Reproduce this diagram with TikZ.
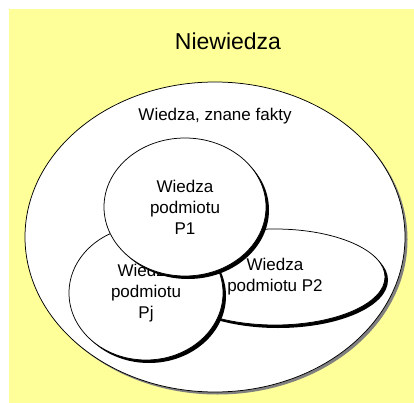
\documentclass[tikz,border=0pt]{standalone}
\usepackage{fontspec}
\setmainfont{Liberation Sans}
\usetikzlibrary{shapes.geometric,shadows}
\definecolor{tlo}{RGB}{255,255,153}
\newcommand{\TLO}[0]{tlo}
\newcommand{\CIEN}[0]{black!50}

\begin{document}
\begin{tikzpicture}[x=1pt, y=-1pt,
  zbior/.style={ellipse, draw, fill=white, line width=0.75pt, inner sep=0pt,
    align=center, font=\fontsize{17}{21}\selectfont},
  cien/.style={drop shadow={fill=black, opacity=1, shadow xshift=3pt, shadow yshift=-3pt}},
  cienszary/.style={drop shadow={fill=\CIEN, opacity=1, shadow xshift=2.5pt, shadow yshift=-2.5pt}}]

  \useasboundingbox (0,0) rectangle (414,403);
  \fill[\TLO] (9,9) rectangle (414,403); %% tlo

  \node[zbior, cienszary, minimum width=380pt, minimum height=310pt] (wiedza) at (215,237) {};
  \node[font=\fontsize{23}{28}\selectfont] (niewiedza) at (228,41) {Niewiedza};
  \node[font=\fontsize{17}{21}\selectfont] (fakty) at (215,116) {Wiedza, znane fakty};

  % podmioty
  \node[zbior, cien, minimum width=220pt, minimum height=96pt] (p2) at (275,277) {Wiedza\\podmiotu P2};
  \node[zbior, cien, minimum width=154pt, minimum height=134pt] (pj) at (146,293) {Wiedza\\podmiotu\\Pj};
  \node[zbior, cien, minimum width=162pt, minimum height=138pt] (p1) at (185,207) {Wiedza\\podmiotu\\P1};

\end{tikzpicture}
\end{document}
